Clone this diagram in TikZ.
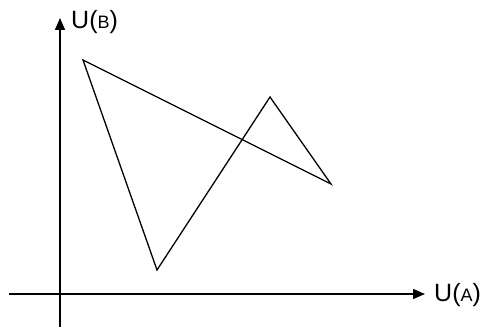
\documentclass[tikz,border=0pt]{standalone}
\usepackage{fontspec}
\setmainfont{Liberation Sans}
\usetikzlibrary{arrows.meta}
\begin{document}
\begin{tikzpicture}[x=1pt,y=-1pt,
  axis/.style={line width=1.5pt,-{Triangle[length=12pt,width=10pt]}},
  edge/.style={line width=1.3pt,line join=miter},
  lbl/.style={font=\fontsize{25}{29}\selectfont,inner sep=0pt}]
\useasboundingbox (0,0) rectangle (488,329);
\coordinate (ys) at (60,327);
\coordinate (ye) at (60,18);
\coordinate (xs) at (9,294);
\coordinate (xe) at (425,294);
\draw[axis] (ys) -- (ye);
\draw[axis] (xs) -- (xe);
\node[lbl,anchor=west] (lb) at (71,22) {U({\fontsize{18}{21}\selectfont B})};
\node[lbl,anchor=west] (la) at (434,295) {U({\fontsize{18}{21}\selectfont A})};
\coordinate (p1) at (83,60);
\coordinate (p2) at (157,270);
\coordinate (p3) at (270,97);
\coordinate (p4) at (331,184);
\draw[edge] (p1) -- (p2) -- (p3) -- (p4) -- cycle;
\end{tikzpicture}
\end{document}
